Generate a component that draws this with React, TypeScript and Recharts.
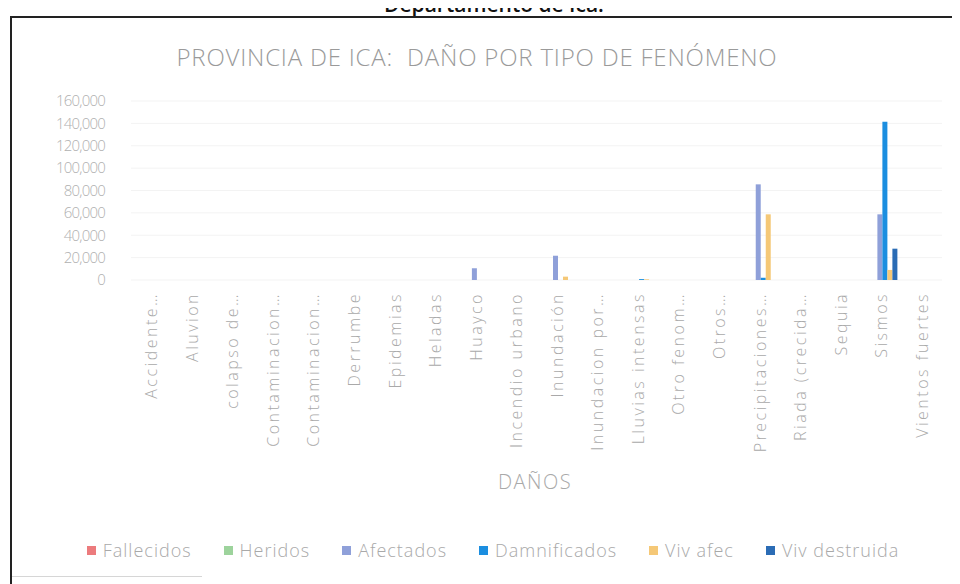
import React from 'react';
import { BarChart, Bar, XAxis, YAxis, CartesianGrid } from 'recharts';

// Tipos de fenómeno (etiquetas tal como aparecen en el eje)
const fenomenos = [
  'Accidente…',
  'Aluvion',
  'colapso de…',
  'Contaminacion…',
  'Contaminacion…',
  'Derrumbe',
  'Epidemias',
  'Heladas',
  'Huayco',
  'Incendio urbano',
  'Inundación',
  'Inundacion por…',
  'Lluvias intensas',
  'Otro fenom…',
  'Otros…',
  'Precipitaciones…',
  'Riada (crecida…',
  'Sequia',
  'Sismos',
  'Vientos fuertes',
];

const fallecidos = [0, 0, 0, 0, 0, 0, 0, 0, 0, 0, 0, 0, 0, 0, 0, 0, 0, 0, 0, 0];
const heridos = [0, 0, 0, 0, 0, 0, 0, 0, 0, 0, 0, 0, 0, 0, 0, 0, 0, 0, 0, 0];
const afectados = [0, 0, 0, 0, 0, 0, 0, 0, 10500, 0, 21700, 0, 0, 0, 0, 85500, 0, 0, 58700, 0];
const damnificados = [0, 0, 0, 0, 0, 0, 0, 0, 0, 0, 0, 0, 800, 0, 0, 2000, 0, 0, 141500, 0];
const vivAfec = [0, 0, 0, 0, 0, 0, 0, 0, 0, 0, 3000, 0, 600, 0, 0, 58700, 0, 0, 9000, 0];
const vivDestruida = [0, 0, 0, 0, 0, 0, 0, 0, 0, 0, 0, 0, 0, 0, 0, 0, 0, 0, 28000, 0];

const yTicks = [0, 20000, 40000, 60000, 80000, 100000, 120000, 140000, 160000];

const series = [
  { key: 'fallecidos', name: 'Fallecidos', color: '#ec7b7d' },
  { key: 'heridos', name: 'Heridos', color: '#9dd39c' },
  { key: 'afectados', name: 'Afectados', color: '#8fa0d9' },
  { key: 'damnificados', name: 'Damnificados', color: '#1b8ee0' },
  { key: 'vivAfec', name: 'Viv afec', color: '#f5c877' },
  { key: 'vivDestruida', name: 'Viv destruida', color: '#2b6cb5' },
];

const data = fenomenos.map((name, i) => ({
  name,
  fallecidos: fallecidos[i],
  heridos: heridos[i],
  afectados: afectados[i],
  damnificados: damnificados[i],
  vivAfec: vivAfec[i],
  vivDestruida: vivDestruida[i],
}));

const FONT = '"Open Sans", "DejaVu Sans", sans-serif';
const GREY = '#a9a9a9';

const XTick = (props: any) => {
  const { x, y, payload } = props;
  return (
    <text
      x={x}
      y={y}
      transform={`rotate(-90 ${x} ${y})`}
      textAnchor="end"
      dominantBaseline="central"
      fill={GREY}
      fontSize={16}
      fontWeight={300}
      fontFamily={FONT}
      letterSpacing={2.5}
    >
      {payload.value}
    </text>
  );
};

export default function App() {
  return (
    <div
      style={{
        position: 'relative',
        width: 960,
        height: 584,
        margin: '-8px 0 0 -8px',
        overflow: 'hidden',
        background: '#fff',
        fontFamily: FONT,
      }}
    >
      {/* encabezado cortado del documento */}
      <div
        style={{
          position: 'absolute',
          top: -8,
          left: 0,
          width: 988,
          textAlign: 'center',
          fontSize: 21,
          fontWeight: 600,
          color: '#111',
          lineHeight: '24px',
        }}
      >
        Departamento de Ica.
      </div>

      {/* marco */}
      <div style={{ position: 'absolute', left: 10, top: 16, width: 960, height: 2, background: '#222' }} />
      <div style={{ position: 'absolute', left: 10, top: 16, width: 2, height: 580, background: '#222' }} />
      <div style={{ position: 'absolute', left: 12, top: 576, width: 190, height: 1, background: '#d6d6d6' }} />

      <div
        style={{
          position: 'absolute',
          top: 40,
          left: 0,
          width: 954,
          textAlign: 'center',
          fontSize: 24,
          fontWeight: 300,
          color: '#9a9a9a',
          letterSpacing: 0.8,
        }}
      >
        PROVINCIA DE ICA:&nbsp; DAÑO POR TIPO DE FENÓMENO
      </div>

      <div style={{ position: 'absolute', left: 0, top: 0 }}>
        <BarChart
          width={960}
          height={584}
          data={data}
          margin={{ top: 101, right: 18, left: 0, bottom: 124 }}
          barCategoryGap="16%"
          barGap={0}
        >
          <CartesianGrid vertical={false} stroke="#f3f3f3" />
          <XAxis
            dataKey="name"
            height={180}
            axisLine={false}
            tickLine={false}
            tickSize={0}
            tickMargin={12}
            interval={0}
            tick={<XTick />}
          />
          <YAxis
            width={131}
            domain={[0, 160000]}
            ticks={yTicks}
            interval={0}
            axisLine={false}
            tickLine={false}
            tickSize={0}
            tickMargin={26}
            tickFormatter={(v: number) => v.toLocaleString('en-US')}
            tick={{ fill: '#b0b0b0', fontSize: 15, fontWeight: 300, fontFamily: FONT, letterSpacing: -0.8 }}
          />
          {series.map((s) => (
            <Bar key={s.key} dataKey={s.key} name={s.name} fill={s.color} isAnimationActive={false} />
          ))}
        </BarChart>
      </div>

      <div
        style={{
          position: 'absolute',
          top: 468,
          left: 435,
          width: 200,
          textAlign: 'center',
          fontSize: 20,
          fontWeight: 300,
          color: GREY,
          letterSpacing: 1.5,
        }}
      >
        DAÑOS
      </div>

      <div
        style={{
          position: 'absolute',
          top: 538,
          left: 0,
          width: 986,
          display: 'flex',
          justifyContent: 'center',
          fontSize: 18,
          fontWeight: 300,
          color: GREY,
          letterSpacing: 1,
        }}
      >
        {series.map((s) => (
          <div key={s.key} style={{ display: 'flex', alignItems: 'center', margin: '0 16px' }}>
            <span style={{ display: 'inline-block', width: 9, height: 9, background: s.color, marginRight: 7 }} />
            <span>{s.name}</span>
          </div>
        ))}
      </div>
    </div>
  );
}
